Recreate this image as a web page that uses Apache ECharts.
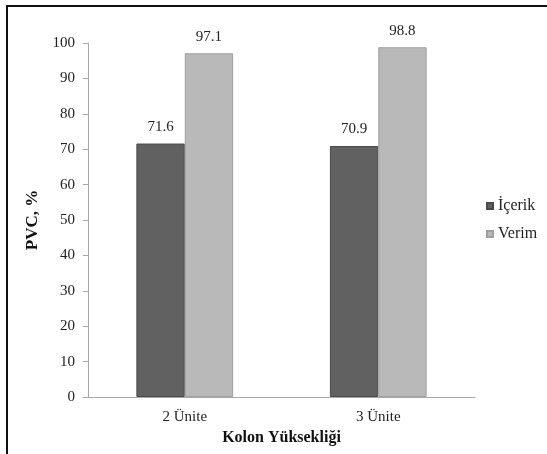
<!DOCTYPE html>
<html>
<head>
<meta charset="utf-8">
<script src="https://cdn.jsdelivr.net/npm/echarts@6/dist/echarts.min.js"></script>
<style>
  html, body { margin: 0; padding: 0; background: #fff; }
  #frame { position: absolute; left: 6px; top: 5px; width: 560px; height: 470px;
           border-left: 2px solid #111; border-top: 2px solid #111; box-sizing: border-box; }
  #chart { position: absolute; left: 0; top: 0; width: 547px; height: 454px; }
</style>
</head>
<body>
<div id="frame"></div>
<div id="chart"></div>
<script>
// Column height categories and PVC content / yield values (%)
const categories = ['2 Ünite', '3 Ünite'];
const icerik = [71.6, 70.9];
const verim = [97.1, 98.8];
const yTicks = { min: 0, max: 100, interval: 10 };

const font = '"Liberation Serif", "Times New Roman", serif';
const chart = echarts.init(document.getElementById('chart'));

const label = {
  show: true, position: 'top', distance: 9,
  fontFamily: font, fontSize: 15, color: '#222'
};

chart.setOption({
  animation: false,
  textStyle: { fontFamily: font },
  grid: { left: 88, right: 72, top: 43, bottom: 57 },
  legend: {
    orient: 'vertical', left: 481, top: 193,
    itemWidth: 6, itemHeight: 6, itemGap: 12,
    icon: 'rect',
    textStyle: { fontFamily: font, fontSize: 16, color: '#222' },
    data: ['İçerik', 'Verim']
  },
  xAxis: {
    type: 'category', data: categories,
    name: 'Kolon Yüksekliği', nameLocation: 'middle', nameGap: 30,
    nameTextStyle: { fontFamily: font, fontSize: 16, fontWeight: 'bold', color: '#111' },
    axisLine: { lineStyle: { color: '#a8a8a8', width: 1 } },
    axisTick: { show: false },
    axisLabel: { margin: 13, fontFamily: font, fontSize: 15, color: '#222' }
  },
  yAxis: {
    type: 'value', min: yTicks.min, max: yTicks.max, interval: yTicks.interval,
    name: 'PVC, %', nameLocation: 'middle', nameGap: 47, nameRotate: 90,
    nameTextStyle: { fontFamily: font, fontSize: 17, fontWeight: 'bold', color: '#111' },
    axisLine: { show: true, lineStyle: { color: '#a8a8a8', width: 1 } },
    axisTick: { show: true, length: 5, lineStyle: { color: '#a8a8a8' } },
    splitLine: { show: false },
    axisLabel: { margin: 13, fontFamily: font, fontSize: 15, color: '#222' }
  },
  series: [
    {
      name: 'İçerik', type: 'bar', data: icerik,
      barGap: '0%', barCategoryGap: '50%',
      itemStyle: { color: '#616161', borderColor: '#4a4a4a', borderWidth: 1 },
      label: label
    },
    {
      name: 'Verim', type: 'bar', data: verim,
      itemStyle: { color: '#b9b9b9', borderColor: '#a0a0a0', borderWidth: 1 },
      label: label
    }
  ]
});
</script>
</body>
</html>
